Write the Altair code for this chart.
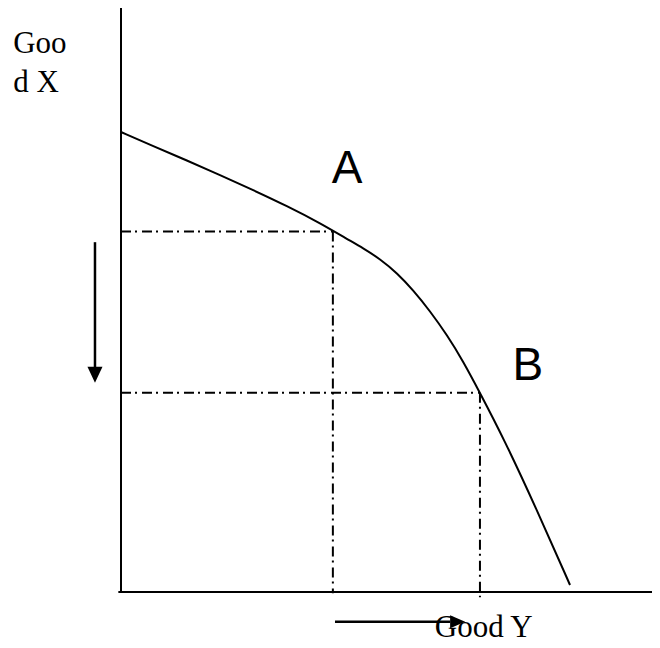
import altair as alt
import pandas as pd

# Production possibility curve: Good Y (horizontal) vs Good X (vertical)
curve_good_y = [0.0, 6.03, 12.43, 18.64, 24.86, 31.26, 37.48, 42.56, 45.57, 48.78,
                51.98, 54.99, 58.19, 61.39, 64.41, 67.6, 71.94, 78.34, 84.56]
curve_good_x = [78.77, 76.37, 73.89, 71.40, 68.84, 66.10, 63.18, 60.45, 58.90, 57.02,
                54.62, 51.71, 48.12, 44.01, 39.55, 34.1, 26.54, 14.04, 1.20]

# Points A and B on the curve
point_names = ["A", "B"]
point_good_y = [39.9, 67.6]
point_good_x = [61.75, 34.1]
point_label_y = [42.6, 76.6]
point_label_x = [70.0, 36.3]

# Axis label texts
axis_texts = ["Goo", "d X", "Good Y"]
axis_text_y = [-20.3, -20.3, 59.1]
axis_text_x = [92.3, 85.6, -7.7]

# Arrows (shaft start/end, head position)
arrow_names = ["down", "right"]
arrow_x1 = [-4.9, 40.3]
arrow_x2 = [-4.9, 62.0]
arrow_y1 = [59.9, -5.1]
arrow_y2 = [38.4, -5.1]
arrow_head_x = [-4.9, 63.4]
arrow_head_y = [37.2, -5.1]
arrow_head_shape = ["M-0.94,-1L0.94,-1L0,1Z", "M-1,-0.87L1,0L-1,0.87Z"]

XMAX = 100
YMAX = 100

xs = alt.Scale(domain=[0, XMAX], nice=False, zero=False)
ys = alt.Scale(domain=[0, YMAX], nice=False, zero=False)

curve_df = pd.DataFrame({"gy": curve_good_y, "gx": curve_good_x})
pts_df = pd.DataFrame({"name": point_names, "gy": point_good_y, "gx": point_good_x,
                       "ly": point_label_y, "lx": point_label_x})

axes_df = pd.DataFrame({
    "x1": [0, -0.5], "x2": [0, XMAX],
    "y1": [0, 0], "y2": [YMAX, 0],
})

dash_df = pd.DataFrame({
    "x1": [0, 0, point_good_y[0], point_good_y[1]],
    "x2": [point_good_y[0], point_good_y[1], point_good_y[0], point_good_y[1]],
    "y1": [point_good_x[0], point_good_x[1], point_good_x[0], point_good_x[1]],
    "y2": [point_good_x[0], point_good_x[1], -0.2, -0.9],
})

arrow_df = pd.DataFrame({"name": arrow_names, "x1": arrow_x1, "x2": arrow_x2,
                         "y1": arrow_y1, "y2": arrow_y2,
                         "hx": arrow_head_x, "hy": arrow_head_y, "shape": arrow_head_shape})

text_df = pd.DataFrame({"t": axis_texts, "x": axis_text_y, "y": axis_text_x})

axes_layer = alt.Chart(axes_df).mark_rule(color="black", strokeWidth=2).encode(
    x=alt.X("x1:Q", scale=xs, axis=None), x2="x2:Q",
    y=alt.Y("y1:Q", scale=ys, axis=None), y2="y2:Q",
)

dash_layer = alt.Chart(dash_df).mark_rule(color="black", strokeWidth=2, strokeDash=[10, 4, 2, 5]).encode(
    x=alt.X("x1:Q", scale=xs, axis=None), x2="x2:Q",
    y=alt.Y("y1:Q", scale=ys, axis=None), y2="y2:Q",
)

curve_layer = alt.Chart(curve_df).mark_line(color="black", strokeWidth=2, interpolate="basis").encode(
    x=alt.X("gy:Q", scale=xs, axis=None),
    y=alt.Y("gx:Q", scale=ys, axis=None),
)

label_layer = alt.Chart(pts_df).mark_text(
    font="Liberation Sans", fontSize=46, color="black", align="center", baseline="alphabetic"
).encode(
    x=alt.X("ly:Q", scale=xs, axis=None),
    y=alt.Y("lx:Q", scale=ys, axis=None),
    text="name:N",
)

shaft_layer = alt.Chart(arrow_df).mark_rule(color="black", strokeWidth=2.5).encode(
    x=alt.X("x1:Q", scale=xs, axis=None), x2="x2:Q",
    y=alt.Y("y1:Q", scale=ys, axis=None), y2="y2:Q",
)

head_down = alt.Chart(arrow_df[arrow_df.name == "down"]).mark_point(
    shape=arrow_head_shape[0], size=256, filled=True, color="black", opacity=1, strokeWidth=0
).encode(
    x=alt.X("hx:Q", scale=xs, axis=None),
    y=alt.Y("hy:Q", scale=ys, axis=None),
)

head_right = alt.Chart(arrow_df[arrow_df.name == "right"]).mark_point(
    shape=arrow_head_shape[1], size=225, filled=True, color="black", opacity=1, strokeWidth=0
).encode(
    x=alt.X("hx:Q", scale=xs, axis=None),
    y=alt.Y("hy:Q", scale=ys, axis=None),
)

text_layer = alt.Chart(text_df).mark_text(
    font="Liberation Serif", fontSize=31, color="black", align="left", baseline="alphabetic"
).encode(
    x=alt.X("x:Q", scale=xs, axis=None),
    y=alt.Y("y:Q", scale=ys, axis=None),
    text="t:N",
)

chart = alt.layer(
    axes_layer, dash_layer, curve_layer, label_layer, shaft_layer, head_down, head_right, text_layer
).properties(
    width=531, height=584,
    autosize=alt.AutoSizeParams(type="none"),
    padding={"left": 113, "top": 0, "right": 0, "bottom": 48},
    background="white",
).configure_view(stroke=None)

chart.save("out.html", embed_options={"renderer": "svg", "actions": False})
